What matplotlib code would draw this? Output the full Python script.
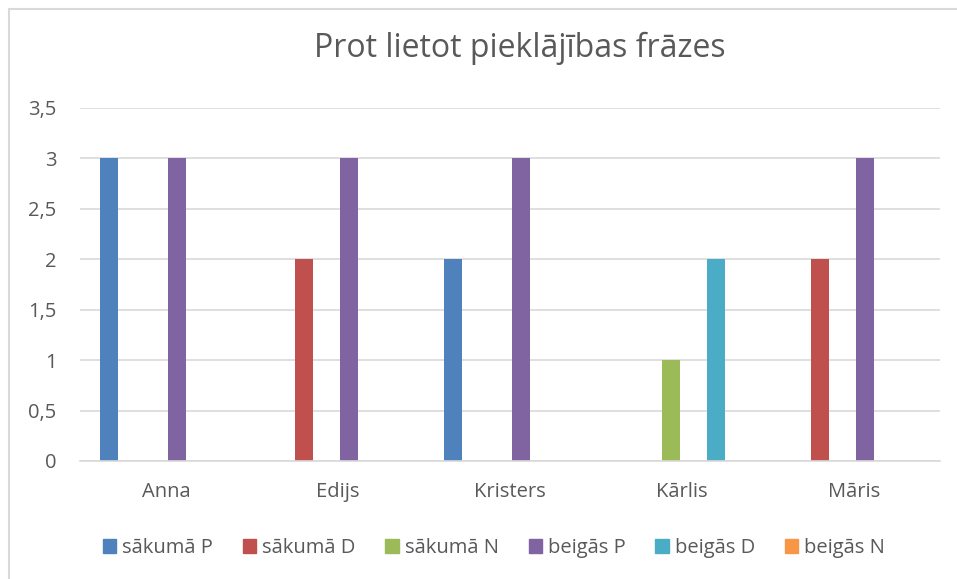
import matplotlib.pyplot as plt
import matplotlib.patches as mpatches
from matplotlib.ticker import FuncFormatter
import numpy as np

plt.rcParams['font.family'] = ['Open Sans', 'DejaVu Sans']

names = ['Anna', 'Edijs', 'Kristers', 'Kārlis', 'Māris']
series = ['sākumā P', 'sākumā D', 'sākumā N', 'beigās P', 'beigās D', 'beigās N']
sakuma_p = [3, 0, 2, 0, 0]
sakuma_d = [0, 2, 0, 0, 2]
sakuma_n = [0, 0, 0, 1, 0]
beigas_p = [3, 3, 3, 0, 3]
beigas_d = [0, 0, 0, 2, 0]
beigas_n = [0, 0, 0, 0, 0]
values = [sakuma_p, sakuma_d, sakuma_n, beigas_p, beigas_d, beigas_n]
colors = ['#4F81BD', '#C0504D', '#9BBB59', '#8064A2', '#4BACC6', '#F79646']

text_color = '#595959'
grid_color = '#D9D9D9'

fig = plt.figure(figsize=(9.57, 5.79), dpi=100)
ax = fig.add_axes([80 / 957, 1 - 461 / 579, 860 / 957, (461 - 107.7) / 579])

x = np.arange(len(names))
step = 0.133
width = 0.105
for i, (vals, col) in enumerate(zip(values, colors)):
    ax.bar(x + (i - 2.5) * step, vals, width, color=col, label=series[i], zorder=3)

ax.set_xlim(-0.5, len(names) - 0.5)
ax.set_ylim(0, 3.5)
ax.set_yticks(np.arange(0, 3.51, 0.5))
ax.yaxis.set_major_formatter(FuncFormatter(lambda v, p: ('%g' % v).replace('.', ',')))
ax.grid(axis='y', color=grid_color, linewidth=1.2, zorder=0)
for s in ['top', 'right', 'left']:
    ax.spines[s].set_visible(False)
ax.spines['bottom'].set_color(grid_color)
ax.spines['bottom'].set_linewidth(1.2)
ax.spines['bottom'].set_zorder(4)
ax.set_xticks(x)
ax.set_xticklabels(names)
ax.tick_params(axis='both', length=0, labelsize=14.5, colors=text_color)
ax.tick_params(axis='x', pad=15)
ax.tick_params(axis='y', pad=17)

fig.text(520 / 957, 1 - 57 / 579, 'Prot lietot pieklājības frāzes', ha='center', va='baseline',
         fontsize=23, color=text_color)

handles = [mpatches.Patch(color=c, label=s) for c, s in zip(colors, series)]
fig.legend(handles=handles, loc='center', bbox_to_anchor=(494 / 957, 1 - 548 / 579), ncol=6,
           frameon=False, fontsize=14.5, handlelength=0.67, handleheight=0.67,
           handletextpad=0.29, columnspacing=1.48, labelcolor=text_color,
           borderaxespad=0, borderpad=0)

# chart area border (only left and top visible in frame)
fig.patches.append(mpatches.Rectangle((9 / 957, -0.1), 1.2, 1 - 9 / 579 + 0.1,
                                      transform=fig.transFigure, fill=False,
                                      edgecolor='#D9D9D9', linewidth=1.5))

fig.savefig('out.png', dpi=100)
